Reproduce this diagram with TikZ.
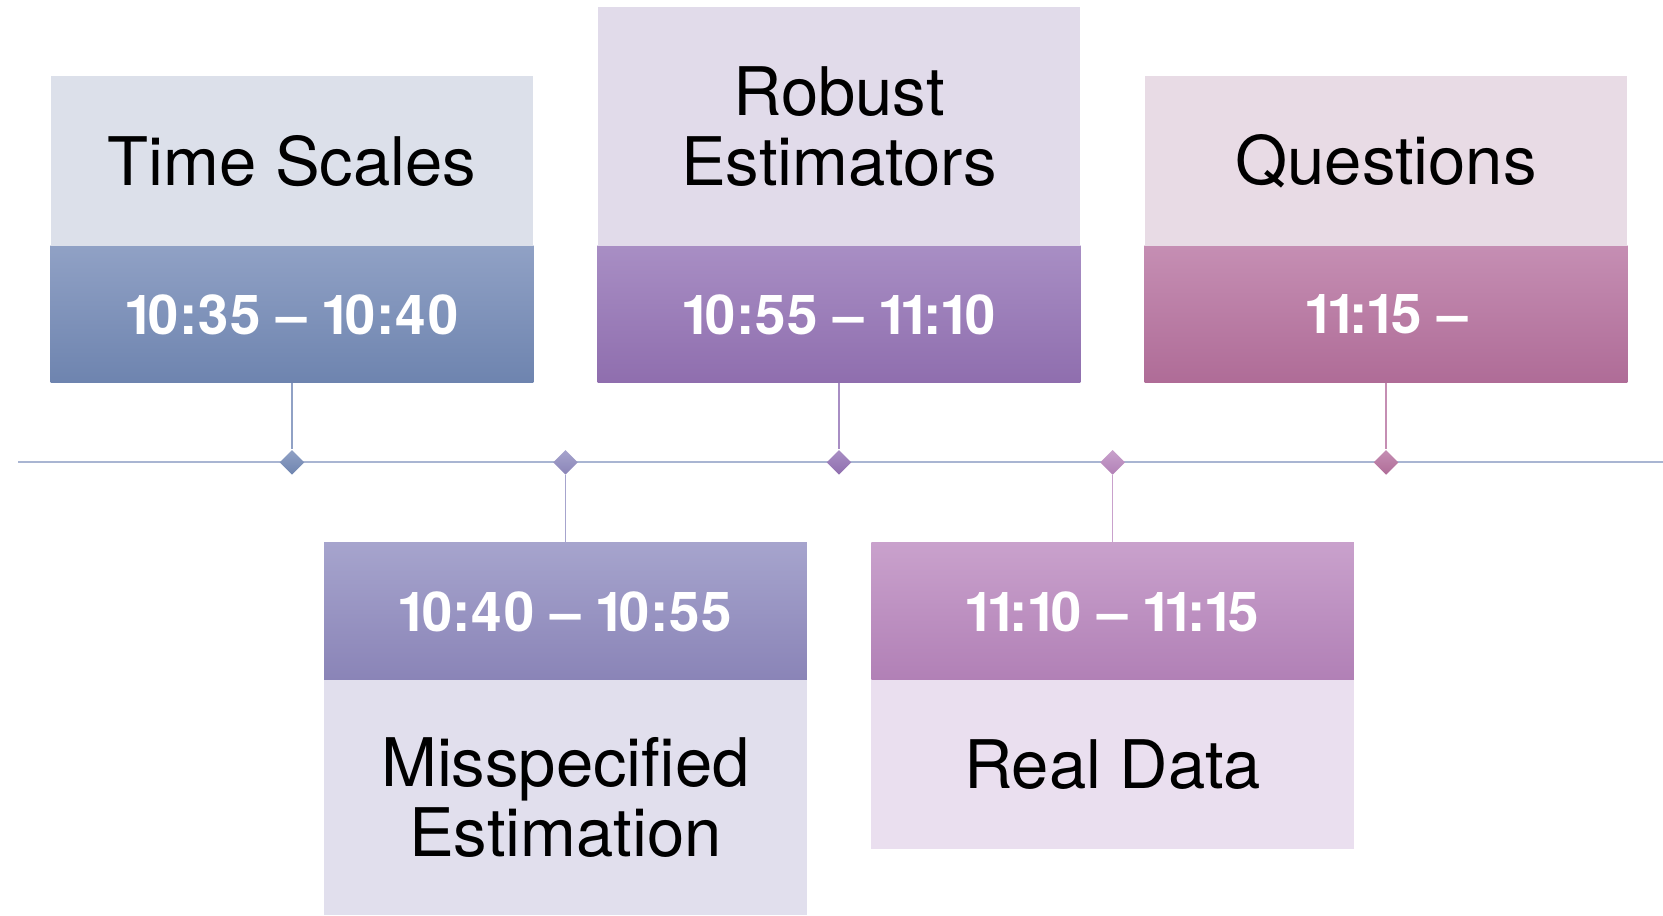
\documentclass[tikz,border=0pt]{standalone}
\usepackage{fontspec}
\setmainfont{TeX Gyre Heros}
\usetikzlibrary{positioning,shapes.geometric}

\definecolor{blueA}{HTML}{90A1C5}
\definecolor{blueB}{HTML}{6E84AF}
\definecolor{blueL}{HTML}{DCE0EA}
\definecolor{violA}{HTML}{A6A4CD}
\definecolor{violB}{HTML}{8A84B7}
\definecolor{violL}{HTML}{E1DFED}
\definecolor{purpA}{HTML}{A88EC4}
\definecolor{purpB}{HTML}{8F6EAE}
\definecolor{purpL}{HTML}{E1DBEA}
\definecolor{orchA}{HTML}{C9A1CC}
\definecolor{orchB}{HTML}{B180B6}
\definecolor{orchL}{HTML}{EADFEF}
\definecolor{plumA}{HTML}{C58EB3}
\definecolor{plumB}{HTML}{AF6C97}
\definecolor{plumL}{HTML}{E8DBE5}
\definecolor{axis}{HTML}{A9B5D2}

\begin{document}
\begin{tikzpicture}[x=0.5pt,y=0.5pt,
  head/.style={rectangle,minimum width=241.3pt,inner sep=0pt,outer sep=0pt,align=center,font=\fontsize{33.5}{35}\selectfont},
  slot/.style={rectangle,minimum width=241.3pt,minimum height=68.5pt,inner sep=0pt,outer sep=0pt,text=white,font=\fontsize{27.5}{30}\selectfont\bfseries\addfontfeatures{Numbers=Proportional,LetterSpace=-2}},
  dia/.style={diamond,minimum size=12.5pt,inner sep=0pt},
  stem/.style={line width=0.7pt}]
  \useasboundingbox (0,0) rectangle (1663,915);
  \coordinate (lineL) at (18,452.6);
  \coordinate (lineR) at (1663,452.6);
  \draw[axis,line width=1pt] (lineL)--(lineR);

  \node[slot,top color=blueA,bottom color=blueB] (tstime) at (292,600.5) {10:35 -- 10:40};
  \node[head,fill=blueL,minimum height=85pt,above=0pt of tstime] (tshead) {Time Scales};
  \node[slot,top color=violA,bottom color=violB] (mstime) at (565.5,303.5) {10:40 -- 10:55};
  \node[head,fill=violL,minimum height=117.5pt,below=0pt of mstime] (mshead) {Misspecified\\Estimation};
  \node[slot,top color=purpA,bottom color=purpB] (retime) at (839,600.5) {10:55 -- 11:10};
  \node[head,fill=purpL,minimum height=119.5pt,above=0pt of retime] (rehead) {Robust\\Estimators};
  \node[slot,top color=orchA,bottom color=orchB] (rdtime) at (1112.6,303.5) {11:10 -- 11:15};
  \node[head,fill=orchL,minimum height=84.25pt,below=0pt of rdtime] (rdhead) {Real Data};
  \node[slot,top color=plumA,bottom color=plumB] (qutime) at (1386,600.5) {11:15 --};
  \node[head,fill=plumL,minimum height=85pt,above=0pt of qutime] (quhead) {Questions};

  \node[dia,top color=blueA,bottom color=blueB] (tsdot) at (tstime.south |- lineL) {};
  \node[dia,top color=violA,bottom color=violB] (msdot) at (mstime.north |- lineL) {};
  \node[dia,top color=purpA,bottom color=purpB] (redot) at (retime.south |- lineL) {};
  \node[dia,top color=orchA,bottom color=orchB] (rddot) at (rdtime.north |- lineL) {};
  \node[dia,top color=plumA,bottom color=plumB] (qudot) at (qutime.south |- lineL) {};

  \draw[stem,blueA] (tstime.south)--(tsdot);
  \draw[stem,violA] (msdot)--(mstime.north);
  \draw[stem,purpA] (retime.south)--(redot);
  \draw[stem,orchA] (rddot)--(rdtime.north);
  \draw[stem,plumA] (qutime.south)--(qudot);
\end{tikzpicture}
\end{document}
